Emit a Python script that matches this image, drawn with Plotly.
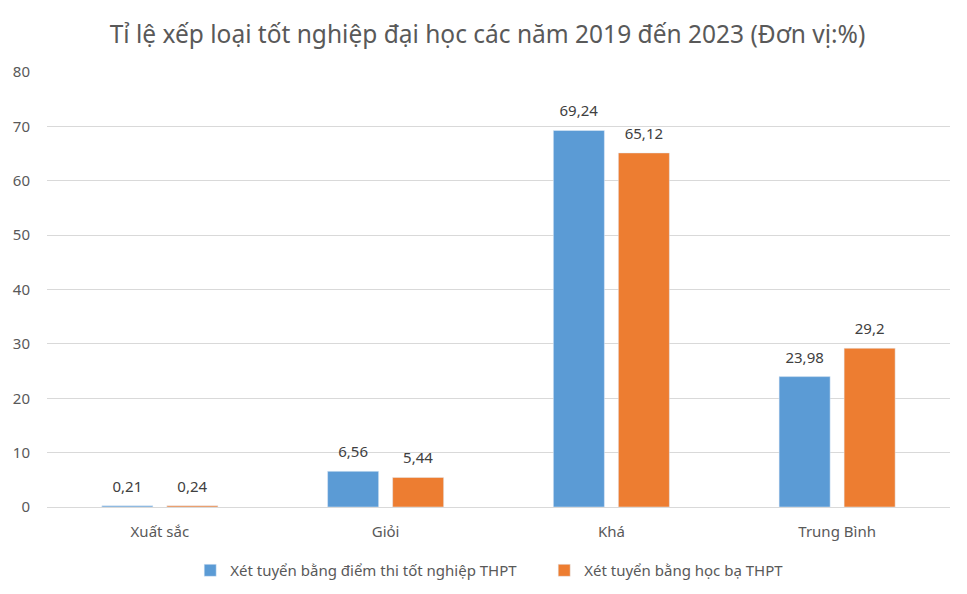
import plotly.graph_objects as go

categories = ["Xuất sắc", "Giỏi", "Khá", "Trung Bình"]
series1_name = "Xét tuyển bằng điểm thi tốt nghiệp THPT"
series2_name = "Xét tuyển bằng học bạ THPT"
series1 = [0.21, 6.56, 69.24, 23.98]
series2 = [0.24, 5.44, 65.12, 29.2]

def fmt(v):
    return str(v).replace(".", ",")

font_family = "Noto Sans, Open Sans, sans-serif"
label_tpl = "<span style='font-size:15px'>%{text}</span><br> "

fig = go.Figure()
fig.add_trace(go.Bar(
    x=categories, y=series1, name=series1_name,
    marker_color="#5B9BD5",
    text=[fmt(v) for v in series1], texttemplate=label_tpl, textposition="outside",
    textfont=dict(size=7, color="#404040"), cliponaxis=False,
))
fig.add_trace(go.Bar(
    x=categories, y=series2, name=series2_name,
    marker_color="#ED7D31",
    text=[fmt(v) for v in series2], texttemplate=label_tpl, textposition="outside",
    textfont=dict(size=7, color="#404040"), cliponaxis=False,
))

fig.update_layout(
    width=959, height=586,
    paper_bgcolor="white", plot_bgcolor="white",
    font=dict(family=font_family, color="#595959", size=15),
    title=dict(text="Tỉ lệ xếp loại tốt nghiệp đại học các năm 2019 đến 2023 (Đơn vị:%)",
               x=0.5, xanchor="center", y=0.955, yanchor="middle",
               font=dict(size=24.5, color="#595959")),
    margin=dict(l=39, r=17, t=64, b=87, autoexpand=False),
    barmode="group", bargap=0.424, bargroupgap=0.215,
    showlegend=True,
    legend=dict(orientation="h", xref="container", yref="container",
                x=0.19, xanchor="left", y=0.04, yanchor="middle",
                entrywidth=309, entrywidthmode="pixels",
                font=dict(size=15, color="#595959")),
    uniformtext=dict(mode=False),
)
fig.update_xaxes(showgrid=False, showline=False, ticks="", automargin=False,
                 tickfont=dict(size=15, color="#595959"), ticklabelstandoff=14)
fig.update_yaxes(range=[0, 80], dtick=10, showgrid=True, gridcolor="#D9D9D9", gridwidth=1,
                 zeroline=True, zerolinecolor="#D9D9D9", zerolinewidth=1, automargin=False,
                 showline=False, ticks="", tickfont=dict(size=15, color="#595959"),
                 ticklabelstandoff=16)

fig.write_html("out.html")
